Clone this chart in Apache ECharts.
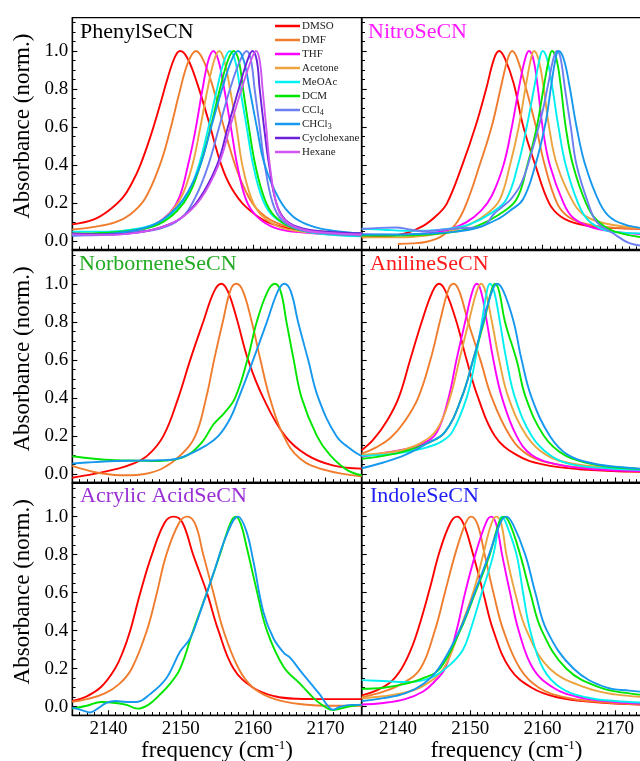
<!DOCTYPE html>
<html><head><meta charset="utf-8">
<script src="https://cdn.jsdelivr.net/npm/echarts@6/dist/echarts.min.js"></script>
<style>html,body{margin:0;padding:0;background:#fff}#c{width:640px;height:761px}</style>
</head><body><div id="c"></div><script>
// ---------------- DATA (frequency cm-1, normalized absorbance) ----------------
const solvents = ['DMSO','DMF','THF','Acetone','MeOAc','DCM','CCl4','CHCl3','Cyclohexane','Hexane'];
const xMajorTicks = [2140, 2150, 2160, 2170];
const yMajorTicks = [0, 0.2, 0.4, 0.6, 0.8, 1.0];

const phenyl_DMSO = [[2135,0.088],[2138,0.115],[2140,0.16],[2142,0.23],[2143.3,0.31],[2144.4,0.4],[2145.8,0.55],[2147,0.7],[2148.2,0.86],[2149.2,0.97],[2149.9,1.0],[2150.8,0.97],[2152,0.86],[2153.7,0.65],[2155.6,0.4],[2157,0.28],[2159,0.18],[2162,0.1],[2166,0.06],[2170,0.047],[2175,0.042]];
const phenyl_DMF = [[2135,0.061],[2138,0.075],[2141,0.1],[2143,0.14],[2145,0.22],[2147.1,0.4],[2148.5,0.58],[2149.8,0.78],[2151,0.94],[2152.1,1.0],[2153,0.96],[2154.2,0.84],[2155.8,0.62],[2157.5,0.4],[2159,0.26],[2160.5,0.17],[2163,0.1],[2167,0.06],[2175,0.04]];
const phenyl_THF = [[2135,0.035],[2140,0.04],[2144,0.055],[2146.5,0.09],[2148.5,0.15],[2149.8,0.23],[2151,0.4],[2152,0.58],[2153,0.8],[2153.8,0.95],[2154.5,1.0],[2155.2,0.95],[2156,0.8],[2157,0.58],[2157.8,0.4],[2159,0.22],[2160.5,0.13],[2163,0.07],[2167,0.045],[2175,0.03]];
const phenyl_Acetone = [[2135,0.035],[2140,0.042],[2144,0.058],[2147,0.1],[2149,0.17],[2150.3,0.25],[2151.6,0.4],[2152.6,0.58],[2153.7,0.8],[2154.6,0.95],[2155.3,1.0],[2156,0.95],[2156.8,0.8],[2157.7,0.6],[2158.5,0.4],[2159.8,0.22],[2161.3,0.13],[2164,0.07],[2168,0.045],[2175,0.03]];
const phenyl_MeOAc = [[2135,0.05],[2140,0.05],[2144,0.065],[2147,0.1],[2149.5,0.17],[2151,0.25],[2152.5,0.4],[2153.7,0.58],[2155,0.8],[2156,0.95],[2156.8,1.0],[2157.5,0.95],[2158.2,0.8],[2159.1,0.6],[2160,0.4],[2161.3,0.22],[2162.8,0.13],[2165.5,0.07],[2169,0.04],[2175,0.025]];
const phenyl_DCM = [[2135,0.04],[2140,0.045],[2144,0.06],[2147,0.09],[2149.5,0.16],[2151.2,0.25],[2152.7,0.4],[2154,0.58],[2155.4,0.8],[2156.5,0.95],[2157.3,1.0],[2158,0.95],[2158.6,0.8],[2159.4,0.6],[2160.3,0.4],[2161.6,0.22],[2163,0.13],[2165.5,0.07],[2169,0.045],[2175,0.03]];
const phenyl_CCl4 = [[2135,0.03],[2140,0.035],[2144,0.05],[2147,0.065],[2150,0.12],[2152,0.23],[2153.8,0.4],[2155.3,0.6],[2156.8,0.8],[2158.2,0.95],[2159.1,1.0],[2159.7,0.95],[2160.2,0.8],[2160.9,0.6],[2161.6,0.4],[2162.7,0.2],[2164,0.11],[2166.5,0.06],[2170,0.04],[2175,0.03]];
const phenyl_CHCl3 = [[2135,0.03],[2140,0.038],[2144,0.06],[2147,0.1],[2149.5,0.18],[2151,0.26],[2152.7,0.4],[2154.2,0.6],[2155.7,0.8],[2157,0.95],[2157.9,1.0],[2158.7,0.95],[2159.5,0.8],[2160.5,0.6],[2161.6,0.4],[2163.6,0.22],[2165.5,0.13],[2168,0.08],[2171,0.055],[2175,0.04]];
const phenyl_Cyclohexane = [[2135,0.04],[2140,0.035],[2144,0.045],[2147,0.07],[2150,0.12],[2152.5,0.22],[2155,0.4],[2156.5,0.6],[2158,0.8],[2159.2,0.95],[2159.9,1.0],[2160.5,0.95],[2160.9,0.8],[2161.5,0.6],[2162.2,0.4],[2163.2,0.2],[2164.5,0.11],[2167,0.065],[2170,0.05],[2175,0.04]];
const phenyl_Hexane = [[2135,0.035],[2140,0.033],[2144,0.045],[2147,0.068],[2150,0.12],[2152.7,0.22],[2155.2,0.4],[2156.8,0.6],[2158.4,0.8],[2159.7,0.95],[2160.4,1.0],[2160.9,0.95],[2161.3,0.8],[2161.8,0.6],[2162.3,0.4],[2163.2,0.2],[2164.4,0.11],[2167,0.06],[2170,0.045],[2175,0.035]];

const nitro_DMSO = [[2135,0.02],[2138,0.025],[2141,0.04],[2143.5,0.08],[2145.5,0.14],[2146.8,0.2],[2148.9,0.4],[2150.7,0.6],[2152.2,0.8],[2153.3,0.96],[2154,1.0],[2154.8,0.96],[2156,0.83],[2157.35,0.6],[2159,0.4],[2160.9,0.2],[2162.5,0.13],[2165,0.09],[2169,0.07],[2175,0.065]];
const nitro_DMF = [[2140,-0.015],[2142,-0.012],[2144,-0.003],[2146,0.025],[2148,0.09],[2149.5,0.2],[2151.3,0.4],[2152.95,0.6],[2154.3,0.82],[2155.2,0.96],[2155.8,1.0],[2156.5,0.96],[2157.6,0.82],[2159.1,0.6],[2160.3,0.4],[2162,0.2],[2163.5,0.13],[2166,0.09],[2170,0.07],[2175,0.065]];
const nitro_THF = [[2135,0.035],[2140,0.033],[2144,0.04],[2147,0.06],[2149.5,0.1],[2151.5,0.16],[2153,0.24],[2154.6,0.4],[2155.75,0.6],[2156.8,0.82],[2157.6,0.96],[2158.1,1.0],[2158.7,0.96],[2159.3,0.82],[2160,0.6],[2161,0.4],[2162.9,0.2],[2164.3,0.12],[2167,0.07],[2171,0.045],[2175,0.035]];
const nitro_Acetone = [[2135,0.02],[2140,0.02],[2144,0.03],[2147,0.05],[2150,0.09],[2152.5,0.15],[2154.1,0.22],[2155.5,0.4],[2156.7,0.6],[2157.7,0.82],[2158.4,0.96],[2158.8,1.0],[2159.4,0.96],[2160.1,0.82],[2160.9,0.6],[2162,0.4],[2164.3,0.2],[2166,0.13],[2169,0.09],[2175,0.065]];
const nitro_MeOAc = [[2135,0.065],[2138,0.06],[2141,0.055],[2144,0.055],[2147,0.065],[2150,0.09],[2153,0.15],[2155,0.22],[2156.6,0.4],[2157.8,0.6],[2158.9,0.82],[2159.6,0.96],[2160,1.0],[2160.6,0.96],[2161.3,0.82],[2162.2,0.6],[2163.2,0.4],[2164.9,0.2],[2166.3,0.11],[2168.5,0.06],[2171,0.045],[2175,0.04]];
const nitro_DCM = [[2135,0.03],[2140,0.03],[2144,0.035],[2148,0.05],[2151,0.08],[2154,0.14],[2156.4,0.22],[2157.9,0.4],[2159.2,0.6],[2160.2,0.82],[2160.9,0.96],[2161.3,1.0],[2161.9,0.96],[2162.5,0.82],[2163.2,0.6],[2164.2,0.4],[2166,0.2],[2167.5,0.11],[2170,0.05],[2175,0.015]];
const nitro_CCl4 = [[2135,0.065],[2137.5,0.07],[2139.8,0.072],[2141.5,0.062],[2143.5,0.052],[2146,0.06],[2148.5,0.068],[2151,0.072],[2152.2,0.09],[2153.2,0.14],[2154.4,0.18],[2155.6,0.22],[2157,0.3],[2158.2,0.43],[2159.8,0.65],[2160.8,0.83],[2161.5,0.96],[2162,1.0],[2162.5,0.96],[2163.1,0.8],[2163.9,0.6],[2164.7,0.4],[2166.3,0.2],[2167.5,0.1],[2169.8,0.04],[2172,-0.01],[2175,-0.03]];
const nitro_CHCl3 = [[2135,0.035],[2140,0.035],[2144,0.04],[2148,0.05],[2151,0.07],[2154,0.12],[2155.5,0.16],[2157.3,0.22],[2159,0.4],[2160.4,0.62],[2161.2,0.82],[2161.8,0.96],[2162.2,1.0],[2162.9,0.96],[2163.7,0.82],[2164.7,0.6],[2165.9,0.4],[2167.9,0.2],[2169.5,0.12],[2172,0.08],[2175,0.065]];

const norb_DMSO = [[2135,-0.02],[2138,0.0],[2141,0.025],[2143.5,0.055],[2145.5,0.1],[2147.6,0.2],[2149.65,0.4],[2151.3,0.6],[2153.1,0.8],[2154.6,0.96],[2155.6,1.0],[2156.5,0.96],[2157.7,0.82],[2159.3,0.6],[2161.4,0.4],[2164.4,0.2],[2167.4,0.1],[2171,0.045],[2175,0.028]];
const norb_DMF = [[2135,0.042],[2138,0.01],[2140.5,-0.004],[2142.5,-0.007],[2145,0.0],[2147.5,0.03],[2150,0.1],[2152,0.2],[2153.5,0.4],[2154.6,0.6],[2155.8,0.8],[2156.9,0.97],[2157.7,1.0],[2158.6,0.96],[2159.8,0.8],[2161,0.6],[2162.3,0.4],[2164.2,0.2],[2166.5,0.08],[2170,0.02],[2175,-0.012]];
const norb_DCM = [[2135,0.093],[2138,0.08],[2141,0.072],[2144,0.07],[2147,0.068],[2149,0.075],[2151,0.1],[2153,0.17],[2154.5,0.26],[2156,0.32],[2157.5,0.4],[2159.2,0.6],[2160.5,0.8],[2162,0.96],[2163,1.0],[2163.8,0.96],[2164.6,0.8],[2165.6,0.6],[2166.7,0.4],[2168.8,0.2],[2170.6,0.1],[2173,0.02],[2175,-0.007]];
const norb_CHCl3 = [[2135,0.055],[2138,0.062],[2141,0.068],[2144,0.07],[2147,0.072],[2149.5,0.08],[2151.5,0.11],[2153.5,0.15],[2155.2,0.2],[2156.8,0.29],[2158,0.4],[2160,0.6],[2161.9,0.8],[2163.4,0.96],[2164.3,1.0],[2165.2,0.96],[2166.2,0.8],[2167.6,0.6],[2169,0.4],[2171.5,0.2],[2173.5,0.13],[2175,0.093]];

const anil_DMSO = [[2135,0.125],[2136.6,0.18],[2138.5,0.28],[2140.1,0.4],[2141.7,0.6],[2143.3,0.8],[2144.8,0.96],[2145.7,1.0],[2146.6,0.96],[2148.1,0.8],[2149.5,0.6],[2151.1,0.4],[2153.4,0.2],[2156.4,0.1],[2160,0.05],[2165,0.025],[2175,0.01]];
const anil_DMF = [[2135,0.107],[2137,0.14],[2139,0.19],[2141,0.28],[2142.8,0.4],[2144.5,0.6],[2145.8,0.8],[2147,0.97],[2147.7,1.0],[2148.5,0.96],[2149.7,0.8],[2151.4,0.6],[2153,0.4],[2155.5,0.2],[2158,0.1],[2162,0.05],[2167,0.03],[2175,0.015]];
const anil_THF = [[2135,0.09],[2138,0.11],[2141,0.13],[2143.5,0.16],[2145.4,0.22],[2147,0.4],[2148.1,0.6],[2149.3,0.8],[2150.3,0.96],[2150.9,1.0],[2151.5,0.96],[2152.3,0.8],[2153.2,0.6],[2154.4,0.4],[2156.4,0.2],[2158.5,0.1],[2162,0.05],[2167,0.025],[2175,0.015]];
const anil_Acetone = [[2135,0.1],[2138,0.11],[2141,0.13],[2143.5,0.17],[2145.5,0.24],[2147.2,0.4],[2148.5,0.6],[2149.8,0.8],[2150.9,0.96],[2151.5,1.0],[2152.1,0.96],[2153,0.8],[2154,0.6],[2155.3,0.4],[2157.8,0.2],[2160.5,0.1],[2164,0.055],[2169,0.035],[2175,0.025]];
const anil_MeOAc = [[2135,0.095],[2138,0.1],[2141,0.115],[2144,0.14],[2146,0.17],[2147.5,0.22],[2149.5,0.4],[2150.7,0.6],[2151.6,0.8],[2152.3,0.96],[2152.7,1.0],[2153.3,0.96],[2154.1,0.8],[2155,0.6],[2156.2,0.4],[2158.5,0.2],[2161,0.1],[2164,0.05],[2169,0.03],[2175,0.02]];
const anil_DCM = [[2135,0.08],[2138,0.095],[2141,0.12],[2144,0.16],[2146.5,0.22],[2148.8,0.4],[2150.4,0.6],[2151.9,0.8],[2152.9,0.96],[2153.4,1.0],[2154,0.96],[2154.8,0.8],[2156.4,0.6],[2157.7,0.4],[2160.2,0.2],[2163,0.1],[2166.5,0.055],[2170,0.035],[2175,0.025]];
const anil_CHCl3 = [[2135,0.03],[2138,0.06],[2141,0.1],[2144,0.16],[2146.5,0.22],[2148.8,0.4],[2150.4,0.6],[2151.8,0.8],[2153,0.96],[2153.7,1.0],[2154.6,0.96],[2156,0.8],[2157.1,0.6],[2158.5,0.4],[2161,0.2],[2163.5,0.1],[2167,0.055],[2171,0.035],[2175,0.025]];

const acryl_DMSO = [[2135,0.03],[2137,0.055],[2139,0.105],[2140.9,0.2],[2142,0.29],[2143,0.4],[2144.4,0.6],[2146,0.8],[2147.8,0.97],[2149,1.0],[2150.2,0.97],[2151.7,0.8],[2153.6,0.6],[2155.2,0.4],[2157.3,0.2],[2160,0.1],[2163,0.055],[2166,0.042],[2170,0.04],[2175,0.04]];
const acryl_DMF = [[2135,0.026],[2137,0.04],[2139.5,0.07],[2141.5,0.12],[2143.2,0.2],[2145.3,0.4],[2146.7,0.6],[2148,0.8],[2149.8,0.97],[2150.9,1.0],[2152,0.96],[2153.1,0.8],[2154.5,0.6],[2155.9,0.4],[2158,0.2],[2160,0.1],[2163,0.04],[2167,0.012],[2171,0.005],[2175,0.005]];
const acryl_DCM = [[2135,-0.01],[2137,0.005],[2139,0.025],[2141,0.02],[2142.5,0.01],[2144,-0.01],[2145.5,0.01],[2147,0.06],[2148.5,0.12],[2149.9,0.2],[2151.7,0.4],[2153.6,0.6],[2155.4,0.8],[2156.9,0.97],[2157.6,1.0],[2158.3,0.96],[2159.1,0.84],[2160.5,0.61],[2161.9,0.4],[2164.2,0.21],[2166.5,0.12],[2168.5,0.04],[2169.9,0.0],[2171,-0.018],[2173,0.0],[2175,0.012]];
const acryl_CHCl3 = [[2135,-0.005],[2136.5,-0.02],[2137.4,-0.03],[2138.5,-0.01],[2139.7,0.02],[2141,0.03],[2142.5,0.025],[2143.9,0.025],[2145.7,0.065],[2148,0.15],[2149.9,0.29],[2151.3,0.36],[2152.6,0.49],[2154.5,0.7],[2156.3,0.9],[2157.9,1.0],[2159,0.93],[2160,0.77],[2161.4,0.5],[2162.8,0.36],[2164.2,0.285],[2165.1,0.258],[2166.5,0.19],[2168,0.12],[2169.2,0.065],[2170.4,0.0],[2171,-0.015],[2172,0.0],[2173.5,0.01],[2175,0.01]];

const ind_DMSO = [[2135,0.06],[2137,0.085],[2139,0.13],[2140.5,0.2],[2141.8,0.3],[2142.9,0.42],[2144.4,0.62],[2145.8,0.82],[2147.3,0.97],[2148.2,1.0],[2149.1,0.96],[2150.4,0.8],[2151.8,0.6],[2153.2,0.4],[2155.5,0.2],[2158.5,0.1],[2162,0.05],[2167,0.025],[2175,0.01]];
const ind_DMF = [[2135,0.05],[2138,0.08],[2140.5,0.12],[2143.1,0.2],[2145.1,0.4],[2146.5,0.6],[2147.9,0.8],[2149.3,0.96],[2150.1,1.0],[2151,0.96],[2152,0.8],[2153.2,0.6],[2154.6,0.4],[2156.9,0.2],[2159.5,0.1],[2163,0.05],[2168,0.025],[2175,0.01]];
const ind_THF = [[2135,0.012],[2138,0.02],[2141,0.04],[2143.5,0.08],[2145,0.13],[2146.5,0.2],[2148.1,0.4],[2149.3,0.6],[2150.7,0.8],[2152.2,0.97],[2152.9,1.0],[2153.6,0.96],[2154.4,0.8],[2155.5,0.6],[2156.7,0.4],[2158.7,0.2],[2161.5,0.1],[2165,0.05],[2170,0.025],[2175,0.015]];
const ind_Acetone = [[2135,0.045],[2138,0.055],[2141,0.075],[2143.5,0.11],[2146.3,0.2],[2148.5,0.4],[2150.4,0.6],[2151.8,0.8],[2152.9,0.96],[2153.6,1.0],[2154.3,0.96],[2155,0.8],[2156.2,0.6],[2157.8,0.4],[2161,0.2],[2166,0.1],[2170,0.065],[2175,0.05]];
const ind_MeOAc = [[2135,0.14],[2138,0.135],[2141,0.13],[2143,0.135],[2145,0.16],[2147.2,0.22],[2149,0.3],[2150,0.4],[2151.6,0.6],[2153.2,0.8],[2154,0.97],[2154.4,1.0],[2155,0.96],[2156.4,0.8],[2157.3,0.6],[2158.3,0.4],[2160.1,0.2],[2162.5,0.1],[2166,0.05],[2170,0.03],[2175,0.02]];
const ind_DCM = [[2135,0.095],[2138,0.1],[2141,0.12],[2143.5,0.15],[2145.8,0.2],[2148.6,0.4],[2150.7,0.6],[2152.7,0.8],[2154,0.97],[2154.7,1.0],[2155.5,0.96],[2156.9,0.8],[2158.3,0.6],[2159.9,0.4],[2163.3,0.2],[2168,0.1],[2172,0.07],[2175,0.06]];
const ind_CHCl3 = [[2135,0.03],[2138,0.045],[2141,0.07],[2143.5,0.12],[2145.6,0.2],[2148.5,0.4],[2150.6,0.6],[2152.6,0.8],[2154.2,0.97],[2155,1.0],[2155.9,0.96],[2157.6,0.8],[2159,0.6],[2160.6,0.4],[2164.3,0.2],[2168.9,0.1],[2172,0.085],[2175,0.075]];

// ---------------- STYLE / LAYOUT ----------------
const serif = "'Liberation Serif','Times New Roman',serif";
const solventColors = {DMSO:'#ff0000', DMF:'#f07d2e', THF:'#ff00ff', Acetone:'#eba43e', MeOAc:'#00f0f0', DCM:'#00e600', CCl4:'#6b7ff0', CHCl3:'#1598ee', Cyclohexane:'#6a20d8', Hexane:'#d055f0'};
const panels = [
  {title:'PhenylSeCN', color:'#000000', curves:{DMSO:phenyl_DMSO, DMF:phenyl_DMF, THF:phenyl_THF, Acetone:phenyl_Acetone, MeOAc:phenyl_MeOAc, DCM:phenyl_DCM, CCl4:phenyl_CCl4, CHCl3:phenyl_CHCl3, Cyclohexane:phenyl_Cyclohexane, Hexane:phenyl_Hexane}},
  {title:'NitroSeCN', color:'#ff1aff', curves:{DMSO:nitro_DMSO, DMF:nitro_DMF, THF:nitro_THF, Acetone:nitro_Acetone, MeOAc:nitro_MeOAc, DCM:nitro_DCM, CCl4:nitro_CCl4, CHCl3:nitro_CHCl3}},
  {title:'NorborneneSeCN', color:'#22aa22', curves:{DMSO:norb_DMSO, DMF:norb_DMF, DCM:norb_DCM, CHCl3:norb_CHCl3}},
  {title:'AnilineSeCN', color:'#ff1a1a', curves:{DMSO:anil_DMSO, DMF:anil_DMF, THF:anil_THF, Acetone:anil_Acetone, MeOAc:anil_MeOAc, DCM:anil_DCM, CHCl3:anil_CHCl3}},
  {title:'Acrylic AcidSeCN', color:'#9a2fd6', curves:{DMSO:acryl_DMSO, DMF:acryl_DMF, DCM:acryl_DCM, CHCl3:acryl_CHCl3}},
  {title:'IndoleSeCN', color:'#1f1ff5', curves:{DMSO:ind_DMSO, DMF:ind_DMF, THF:ind_THF, Acetone:ind_Acetone, MeOAc:ind_MeOAc, DCM:ind_DCM, CHCl3:ind_CHCl3}}
];
const xRange = [2135, 2175], yRange = [-0.045, 1.175];
const colLeft = [72.3, 361.7], colW = 289.4, rowTop = [17.7, 250.5, 483.3], rowH = 232;
const titlePos = [[80,21],[368,21],[79,253],[370,253],[80,485],[370,485]];

const xMinor = []; for (let v = xRange[0]; v <= xRange[1]; v += 1) xMinor.push(v);
const yMinor = []; for (let k = 0; k <= 23; k++) yMinor.push(+(k*0.05).toFixed(2));

const grids = [], xAxes = [], yAxes = [], series = [], titles = [];
const axisBlack = {color:'#000', width:1.3};
panels.forEach((p, i) => {
  const r = Math.floor(i/2), c = i % 2;
  const bottomRow = r === 2, leftCol = c === 0;
  grids.push({left:colLeft[c], top:rowTop[r], width:colW, height:rowH, show:true, borderColor:'#000', borderWidth:1.3, backgroundColor:'transparent', containLabel:false, outerBoundsMode:'none'});
  titles.push({text:p.title, left:titlePos[i][0], top:titlePos[i][1], padding:0, textStyle:{fontFamily:serif, fontWeight:'normal', fontSize:22, color:p.color}});
  xAxes.push({
    gridIndex:i, type:'value', min:xRange[0], max:xRange[1], position:'bottom',
    axisLine:{show:true, onZero:false, lineStyle:axisBlack},
    axisTick:{show:true, inside:true, length:5, customValues:xMajorTicks, lineStyle:{color:'#000', width:1.1}},
    axisLabel:{show:bottomRow, customValues:xMajorTicks, margin:4, color:'#000', fontSize:19, fontFamily:serif, formatter:v => String(v)},
    splitLine:{show:false},
    name: bottomRow ? '{a|frequency (cm}{s|-1}{a|)}' : '',
    nameLocation:'middle', nameGap:18,
    nameTextStyle:{color:'#000', rich:{a:{fontFamily:serif, fontSize:23, color:'#000', verticalAlign:'middle'}, s:{fontFamily:serif, fontSize:13, color:'#000', verticalAlign:'top'}}}
  });
  xAxes.push({
    gridIndex:i, type:'value', min:xRange[0], max:xRange[1], position:'bottom',
    axisLine:{show:false, onZero:false},
    axisTick:{show:true, inside:true, length:3.3, customValues:xMinor, lineStyle:{color:'#000', width:1}},
    axisLabel:{show:false}, splitLine:{show:false}
  });
  yAxes.push({
    gridIndex:i, type:'value', min:yRange[0], max:yRange[1], position:'left',
    axisLine:{show:true, onZero:false, lineStyle:axisBlack},
    axisTick:{show:true, inside:true, length:5, customValues:yMajorTicks, lineStyle:{color:'#000', width:1.1}},
    axisLabel:{show:leftCol, customValues:yMajorTicks, margin:4, color:'#000', fontSize:19, fontFamily:serif, formatter:v => v.toFixed(1)},
    splitLine:{show:false},
    name: leftCol ? 'Absorbance (norm.)' : '',
    nameLocation:'middle', nameGap:38,
    nameTextStyle:{fontFamily:serif, fontSize:23, color:'#000', padding:[0,0,0,15]}
  });
  yAxes.push({
    gridIndex:i, type:'value', min:yRange[0], max:yRange[1], position:'left',
    axisLine:{show:false, onZero:false},
    axisTick:{show:true, inside:true, length:3.3, customValues:yMinor, lineStyle:{color:'#000', width:1}},
    axisLabel:{show:false}, splitLine:{show:false}
  });
  Object.keys(p.curves).forEach(name => {
    series.push({
      type:'line', name:name, xAxisIndex:2*i, yAxisIndex:2*i, data:p.curves[name],
      symbol:'none', showSymbol:false, smooth:0.4, clip:true,
      lineStyle:{width:1.9, color:solventColors[name]}, itemStyle:{color:solventColors[name]},
      emphasis:{disabled:true}
    });
  });
});

const chart = echarts.init(document.getElementById('c'), null, {renderer:'canvas'});
chart.setOption({
  animation:false,
  backgroundColor:'#fff',
  title:titles,
  legend:{
    data:solvents, orient:'vertical', left:275, top:19, padding:0,
    icon:'rect', itemWidth:25, itemHeight:2.5, itemGap:0, selectedMode:false,
    itemStyle:{borderWidth:0},
    formatter: n => n === 'CCl4' ? 'CCl{s|4}' : (n === 'CHCl3' ? 'CHCl{s|3}' : n),
    textStyle:{fontFamily:serif, fontSize:11, color:'#222', lineHeight:14, padding:[0,0,0,-3],
      rich:{s:{fontFamily:serif, fontSize:8, color:'#222', verticalAlign:'bottom', lineHeight:14, padding:[5,0,0,0]}}}
  },
  grid:grids, xAxis:xAxes, yAxis:yAxes, series:series
});
</script></body></html>
